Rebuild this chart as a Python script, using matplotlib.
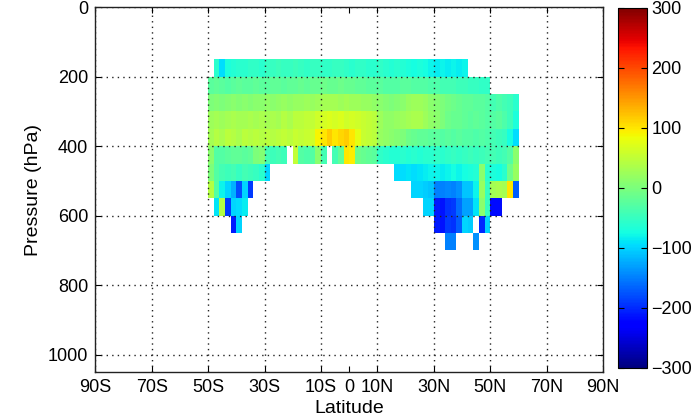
import numpy as np
import matplotlib
matplotlib.use("Agg")
import matplotlib.pyplot as plt
from matplotlib.ticker import FixedLocator, FixedFormatter

plt.rcParams['font.family'] = ['Liberation Sans', 'DejaVu Sans']

N = np.nan

# latitude bin edges (2 degree bins, 50S to 60N) and pressure bin edges (hPa)
lat_edges = np.arange(-50, 61, 2)
p_edges = np.arange(150, 701, 50)

# values per pressure layer (columns = latitude bins, 50S -> 60N)
r0 = [N, -60, -95, -70, -65, -60, -60, -55, -55, -60,
      -50, -50, -45, -50, -50, -45, -50, -55, -50, -50,
      -55, -55, -50, -50, -55, -60, -55, -55, -60, -60,
      -55, -60, -65, -60, -65, -70, -75, -70, -75, -80,
      -85, -80, -85, -80, -85, -80] + [N] * 9
r1 = [-25, -20, -25, -30, -25, -20, -25, -25, -20, -25,
      -25, -20, -20, -25, -20, -20, -15, -20, -15, -15,
      -10, -15, -15, -10, -15, -15, -20, -20, -25, -25,
      -25, -30, -30, -30, -25, -25, -30, -30, -30, -35,
      -35, -40, -40, -40, -45, -45, -50, -50, -55, -55] + [N] * 5
r2 = [0, 5, 0, 5, 10, 5, 10, 5, 10, 10,
      15, 10, 15, 20, 15, 20, 20, 25, 20, 25,
      30, 30, 30, 25, 30, 25, 25, 20, 20, 15,
      10, 5, 0, 5, 10, 20, 25, 25, 20, 10,
      5, 0, -5, -10, -15, -20, -20, -25, -25, -30,
      -40, -35, -40, -45, -60]
r3 = [25, 30, 25, 30, 35, 30, 30, 35, 30, 35,
      30, 35, 30, 40, 35, 45, 45, 50, 50, 60,
      65, 70, 65, 70, 60, 65, 60, 55, 50, 45,
      25, 15, 15, 20, 25, 30, 35, 35, 25, 15,
      10, 0, -10, -15, -15, -20, -25, -20, -25, -30,
      -30, -25, -35, -45, -70]
r4 = [30, 40, 35, 45, 40, 35, 45, 40, 45, 40,
      45, 40, 45, 50, 45, 55, 50, 55, 60, 90,
      100, 115, 100, 110, 115, 100, 75, 55, 50, 45,
      20, 15, 10, 5, 0, -10, -15, -20, -20, -25,
      -25, -30, -25, -30, -25, -30, -30, -35, -30, -35,
      -40, -45, -50, -75, -95]
r5 = [10, -30, -30, -25, -20, -20, -25, -20, 0, 5,
      -40, -45, -40, -45, N, 50, -30, -35, -30, 10,
      -40, N, -40, -20, 100, 95, -10, -15, -20, -25,
      -55, -60, -65, -65, -60, -65, -60, -65, -60, -60,
      -55, -60, -55, -50, -55, -50, -45, -50, -45, -40,
      -40, -45, -40, -30, 10]
r6 = ([0, -30, -40, -45, -40, -50, -40, -45, -50, -60, -100]
      + [N] * 22
      + [-95, -95, -90, -95, -90, -85, -80,
         -80, -85, -80, -75, -80, -75, -70, -65, 10, -60,
         -70, -75, -60, -10, 20])
r7 = ([40, -30, -80, -100, -120, -180, -100, -190]
      + [N] * 28
      + [-100, -100, -105, -110,
         -150, -150, -145, -150, -140, -110, -110, -80, 20, -50,
         30, 35, 30, 100, -170])
r8 = ([N, -90, 40, -190, -100, -95, -85]
      + [N] * 31
      + [-100, -100,
         -210, -215, -195, -190, -160, -130, -130, -90, 10, -50,
         -220, -220]
      + [N] * 3)
r9 = ([N] * 4 + [-210, -100] + [N] * 34
      + [-210, -215, -190, -195, -170, -100, -105, N, -200, -100]
      + [N] * 5)
r10 = [N] * 42 + [-150, -150] + [N] * 3 + [-140] + [N] * 7

field = np.array([r0, r1, r2, r3, r4, r5, r6, r7, r8, r9, r10], dtype=float)
field = np.ma.masked_invalid(field)

major_lats = [-90, -70, -50, -30, -10, 10, 30, 50, 70, 90]
major_labels = ['90S', '70S', '50S', '30S', '10S', '10N', '30N', '50N', '70N', '90N']
p_ticks = [0, 200, 400, 600, 800, 1000]
cbar_ticks = [-300, -200, -100, 0, 100, 200, 300]

fig = plt.figure(figsize=(6.95, 4.19), dpi=100)
ax = fig.add_axes([0.137, 0.112, 0.731, 0.871])

mesh = ax.pcolormesh(lat_edges, p_edges, field, cmap='jet', vmin=-300, vmax=300,
                     shading='flat')

ax.set_xlim(-90, 90)
ax.set_ylim(1050, 0)

ax.xaxis.set_major_locator(FixedLocator(major_lats))
ax.xaxis.set_major_formatter(FixedFormatter(major_labels))
ax.xaxis.set_minor_locator(FixedLocator([0]))
ax.xaxis.set_minor_formatter(FixedFormatter(['0']))
ax.set_yticks(p_ticks)

ax.grid(True, which='major', linestyle=(0, (1, 3)), color='#222222', linewidth=1.0)
ax.tick_params(which='both', direction='in', length=4, width=0.8,
               top=True, right=True, labelsize=13, pad=5)
ax.tick_params(which='minor', length=4)
for s in ax.spines.values():
    s.set_linewidth(1.0)
    s.set_color('#222222')

ax.set_xlabel('Latitude', fontsize=14, labelpad=3)
ax.set_ylabel('Pressure (hPa)', fontsize=14, labelpad=4)

cax = fig.add_axes([0.889, 0.122, 0.042, 0.860])
cb = fig.colorbar(mesh, cax=cax, ticks=cbar_ticks)
cb.ax.tick_params(direction='in', length=4, labelsize=13, left=True, right=True, pad=3)
cb.outline.set_linewidth(0.8)

fig.savefig('out.png', dpi=100)
